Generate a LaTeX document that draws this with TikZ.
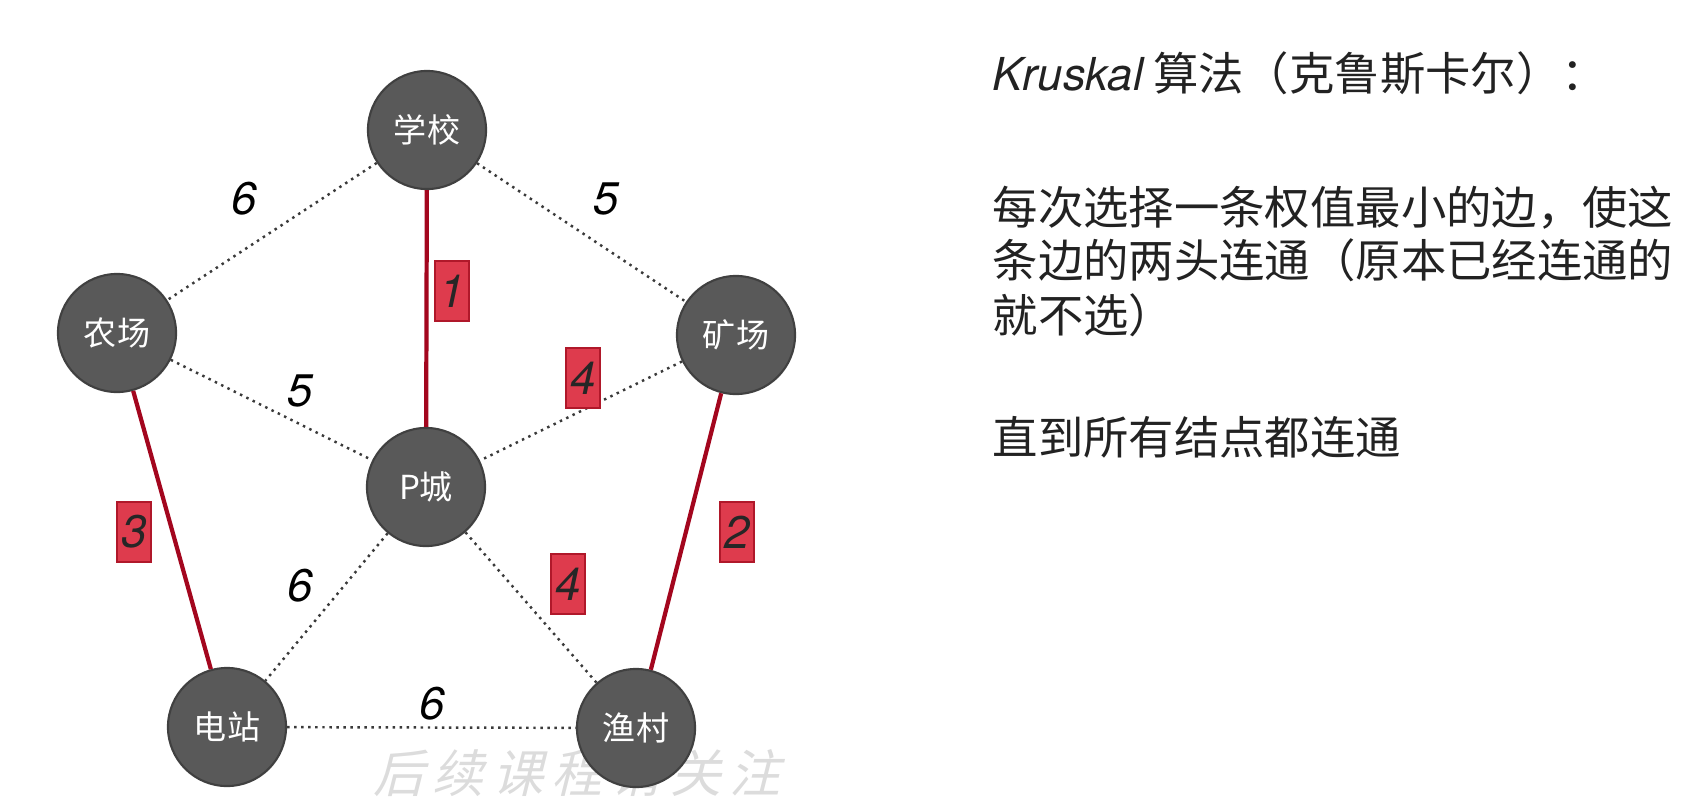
\documentclass[tikz,border=0pt]{standalone}
\usepackage{fontspec}
\setmainfont{TeX Gyre Heros}
\newfontfamily\cjk{Noto Sans CJK SC}
\newfontfamily\numfont{TeX Gyre Heros}
\newfontfamily\markfont[FakeSlant=0.25]{Noto Sans CJK SC}
\usetikzlibrary{positioning}

\definecolor{nodegray}{HTML}{595959}
\definecolor{nodeedge}{HTML}{404040}
\definecolor{pathred}{HTML}{A3061E}
\definecolor{boxred}{HTML}{DE3B4D}
\definecolor{boxedge}{HTML}{B0182A}
\definecolor{dotgray}{HTML}{3A3A3A}
\definecolor{marktext}{HTML}{DCDCDC}
\definecolor{notetext}{HTML}{222222}

\tikzset{
  town/.style = {circle, fill = nodegray, draw = nodeedge, line width = 0.6pt,
    minimum size = 1.18cm, inner sep = 0pt, text = white,
    font = \cjk\fontsize{9.4}{11}\selectfont},
  road/.style = {draw = dotgray, line width = 0.7pt, dash pattern = on 0.7pt off 1.3pt},
  chosen/.style = {draw = pathred, line width = 1.2pt},
  weight/.style = {font = \numfont\itshape\fontsize{13}{15}\selectfont, inner sep = 0pt},
  pick/.style = {weight, fill = boxred, draw = boxedge, line width = 0.4pt,
    minimum width = 0.34cm, minimum height = 0.6cm, text = black!85},
  note/.style = {anchor = base west, inner sep = 0pt, text = notetext,
    font = \cjk\fontsize{12.9}{15}\selectfont}
}

\begin{document}
\begin{tikzpicture}[x = 0.01cm, y = -0.01cm]
\useasboundingbox (0, 0) rectangle (1686, 800);

% watermark under the graph
\node[text = marktext, font = \markfont\fontsize{14.5}{16}\selectfont, inner sep = 0pt]
  (mark) at (577, 773) {后\,续\,课\,程\,请\,关\,注};

% towns
\node[town] (school) at (427, 130) {学校};
\node[town] (farm) at (117, 333) {农场};
\node[town] (mine) at (736, 335) {矿场};
\node[town] (city) at (426, 487) {P城};
\node[town] (power) at (227, 727) {电站};
\node[town] (fish) at (636, 728) {渔村};

% roads
\draw[road] (school) -- (farm);
\draw[road] (school) -- (mine);
\draw[road] (farm) -- (city);
\draw[road] (mine) -- (city);
\draw[road] (city) -- (power);
\draw[road] (city) -- (fish);
\draw[road] (power) -- (fish);
\draw[chosen] (school) -- (city);
\draw[chosen] (farm) -- (power);
\draw[chosen] (mine) -- (fish);

% weights
\node[weight] (w1) at (244, 199) {6};
\node[weight] (w2) at (606, 199) {5};
\node[weight] (w3) at (300, 391) {5};
\node[weight] (w4) at (300, 586) {6};
\node[weight] (w5) at (432, 704) {6};

% chosen order
\node[pick] (p1) at (452, 291) {1};
\node[pick] (p2) at (737, 532) {2};
\node[pick] (p3) at (134, 532) {3};
\node[pick] (p4) at (583, 378) {4};
\node[pick] (p5) at (568, 584) {4};

% explanation
\node[note] (title) at (992, 90) {{\numfont\itshape Kruskal} 算法（克鲁斯卡尔）：};
\node[note] (rule1) at (992, 224) {每次选择一条权值最小的边，使这};
\node[note] (rule2) at (992, 277) {条边的两头连通（原本已经连通的};
\node[note] (rule3) at (992, 332) {就不选）};
\node[note] (rule4) at (992, 454) {直到所有结点都连通};
\end{tikzpicture}
\end{document}
